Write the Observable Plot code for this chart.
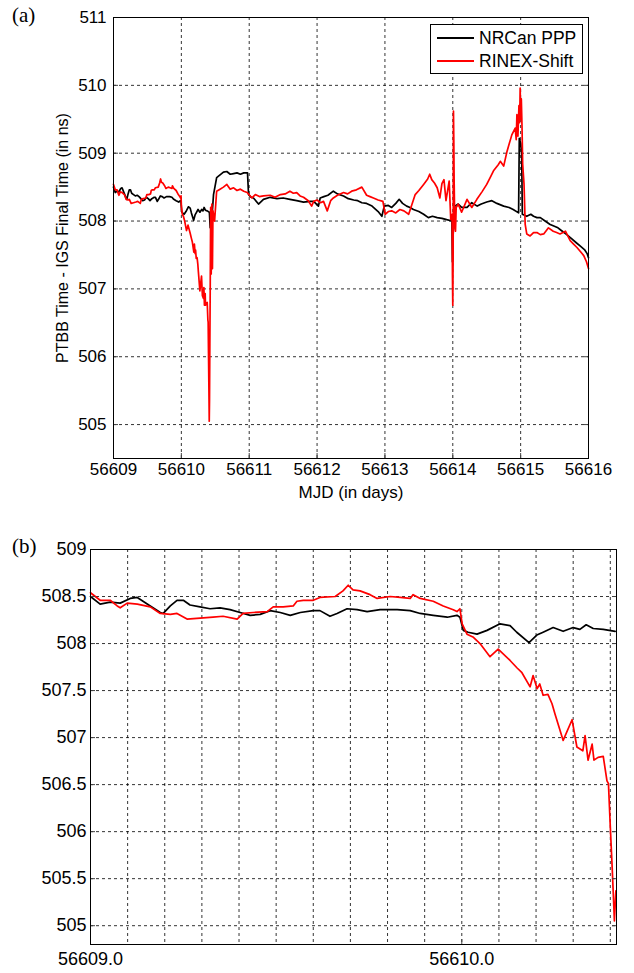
<!DOCTYPE html>
<html>
<head>
<meta charset="utf-8">
<script src="https://cdn.jsdelivr.net/npm/d3@7"></script>
<script src="https://cdn.jsdelivr.net/npm/@observablehq/plot@0.6"></script>
<style>
  body { margin: 0; background: #fff; }
  #wrap { position: relative; width: 634px; height: 973px; font-family: Arial, "Liberation Sans", sans-serif; color: #000; }
  .panel { position: absolute; left: 0; }
  .tag { position: absolute; left: 12px; font-family: "Times New Roman", "Liberation Serif", serif; font-size: 21px; line-height: 1; }
  .legend { position: absolute; left: 430px; top: 24px; width: 151px; height: 48px; border: 1px solid #000; background: #fff; }
  .legend .row { position: absolute; left: 6px; height: 22px; display: flex; align-items: center; }
  .legend .swatch { width: 37px; height: 0; border-top: 2px solid; margin-right: 5px; }
  .legend span { font-size: 17.5px; white-space: nowrap; }
</style>
</head>
<body>
<div id="wrap">
  <div class="tag" style="top:5px">(a)</div>
  <div class="tag" style="top:536px">(b)</div>
</div>
<script>
// Series: [days after MJD 56609, PTBB - IGS final time in ns]
const MJD0 = 56609;

const pppTrace = [
  [0, 508.50], [0.026, 508.42], [0.053, 508.44], [0.080, 508.43], [0.107, 508.48], [0.126, 508.49],
  [0.161, 508.40], [0.188, 508.33], [0.196, 508.32], [0.215, 508.40], [0.233, 508.46], [0.250, 508.46],
  [0.268, 508.41], [0.295, 508.39], [0.322, 508.37], [0.349, 508.38], [0.376, 508.36], [0.403, 508.33],
  [0.430, 508.30], [0.457, 508.31], [0.484, 508.35], [0.511, 508.33], [0.538, 508.30], [0.565, 508.33],
  [0.600, 508.35], [0.618, 508.35], [0.645, 508.29], [0.664, 508.32], [0.691, 508.37], [0.718, 508.36],
  [0.745, 508.34], [0.780, 508.36], [0.826, 508.36], [0.861, 508.35], [0.888, 508.32], [0.923, 508.30],
  [0.961, 508.28], [0.987, 508.30], [0.995, 508.28], [1.004, 508.14], [1.017, 508.12], [1.041, 508.10],
  [1.068, 508.14], [1.103, 508.21], [1.130, 508.19], [1.148, 508.12], [1.181, 508.01], [1.202, 508.09],
  [1.219, 508.12], [1.246, 508.17], [1.273, 508.13], [1.300, 508.17], [1.318, 508.15], [1.335, 508.20],
  [1.354, 508.16], [1.381, 508.15], [1.413, 508.13],
  [1.425, 507.90], [1.45, 508.05], [1.474, 508.39], [1.52, 508.64], [1.57, 508.68], [1.62, 508.72],
  [1.67, 508.73], [1.72, 508.69], [1.77, 508.70], [1.82, 508.71], [1.87, 508.69], [1.92, 508.71],
  [1.975, 508.71], [1.99, 508.39], [2.03, 508.35], [2.063, 508.34], [2.137, 508.25], [2.21, 508.32],
  [2.31, 508.35], [2.41, 508.33], [2.50, 508.34], [2.60, 508.32], [2.70, 508.30], [2.80, 508.28],
  [2.90, 508.29], [2.95, 508.29], [3.02, 508.22], [3.046, 508.34], [3.10, 508.36], [3.16, 508.38],
  [3.24, 508.44], [3.30, 508.40], [3.39, 508.37], [3.46, 508.33], [3.54, 508.31], [3.60, 508.30],
  [3.66, 508.27], [3.73, 508.26], [3.81, 508.22], [3.90, 508.14], [3.955, 508.07], [3.99, 508.22],
  [4.05, 508.23], [4.10, 508.20], [4.16, 508.26], [4.21, 508.32], [4.26, 508.26], [4.32, 508.22],
  [4.37, 508.20], [4.42, 508.17], [4.50, 508.14], [4.57, 508.10], [4.64, 508.05], [4.70, 508.07],
  [4.77, 508.05], [4.84, 508.04], [4.91, 508.02], [4.987, 508.00], [4.995, 507.40], [5.005, 507.80],
  [5.03, 508.22], [5.08, 508.25], [5.13, 508.20], [5.21, 508.20], [5.28, 508.27], [5.36, 508.22],
  [5.42, 508.25], [5.50, 508.28], [5.576, 508.30], [5.65, 508.26], [5.75, 508.22], [5.83, 508.20],
  [5.89, 508.17], [5.97, 508.12], [5.98, 509.22], [6.0, 509.15], [6.015, 508.98], [6.025, 508.10],
  [6.09, 508.07], [6.15, 508.10], [6.19, 508.07], [6.24, 508.05], [6.29, 508.05], [6.36, 508.00],
  [6.435, 507.95], [6.48, 507.93], [6.55, 507.90], [6.60, 507.86], [6.68, 507.80], [6.75, 507.74],
  [6.82, 507.68], [6.88, 507.63], [6.94, 507.58], [6.98, 507.52], [7.0, 507.46]
];

const rinexTrace = [
  [0, 508.54], [0.026, 508.46], [0.053, 508.46], [0.072, 508.40], [0.080, 508.38], [0.099, 508.43],
  [0.126, 508.42], [0.161, 508.39], [0.188, 508.32], [0.215, 508.31], [0.233, 508.32], [0.260, 508.26],
  [0.295, 508.27], [0.330, 508.28], [0.357, 508.29], [0.395, 508.26], [0.411, 508.32], [0.438, 508.33],
  [0.476, 508.34], [0.492, 508.39], [0.519, 508.39], [0.546, 508.40], [0.556, 508.45], [0.573, 508.46],
  [0.600, 508.46], [0.618, 508.49], [0.659, 508.50], [0.680, 508.56], [0.694, 508.62], [0.707, 508.57],
  [0.726, 508.56], [0.753, 508.52], [0.772, 508.48], [0.807, 508.50], [0.834, 508.49], [0.861, 508.48],
  [0.869, 508.52], [0.888, 508.48], [0.923, 508.45], [0.950, 508.40], [0.977, 508.36], [0.987, 508.34],
  [0.995, 508.37], [1.001, 508.21], [1.014, 508.10], [1.030, 508.07], [1.049, 508.00], [1.076, 507.86],
  [1.098, 507.94], [1.130, 507.82], [1.149, 507.74], [1.162, 507.69], [1.184, 507.54], [1.192, 507.66],
  [1.203, 507.52], [1.210, 507.57], [1.219, 507.45], [1.232, 507.46], [1.243, 507.36], [1.251, 507.25],
  [1.273, 506.97], [1.297, 507.19], [1.310, 506.90], [1.326, 506.86], [1.332, 507.02], [1.340, 506.76],
  [1.351, 506.93], [1.356, 506.76], [1.367, 506.79], [1.381, 506.80], [1.391, 506.54], [1.395, 506.51],
  [1.400, 506.05], [1.405, 505.62], [1.408, 505.34], [1.411, 505.05], [1.415, 505.37],
  [1.42, 506.20], [1.425, 506.95], [1.432, 508.20], [1.44, 507.22], [1.45, 508.25], [1.458, 507.30],
  [1.466, 508.15], [1.49, 508.00], [1.52, 508.44], [1.57, 508.47], [1.62, 508.50], [1.67, 508.54],
  [1.72, 508.47], [1.77, 508.49], [1.82, 508.45], [1.87, 508.47], [1.92, 508.44], [1.97, 508.42],
  [2.04, 508.34], [2.09, 508.39], [2.15, 508.36], [2.21, 508.37], [2.31, 508.38], [2.38, 508.35],
  [2.46, 508.39], [2.53, 508.40], [2.60, 508.44], [2.65, 508.41], [2.70, 508.42], [2.75, 508.37],
  [2.80, 508.35], [2.87, 508.30], [2.92, 508.22], [2.95, 508.29], [3.0, 508.31], [3.05, 508.27],
  [3.095, 508.29], [3.15, 508.15], [3.20, 508.30], [3.24, 508.34], [3.30, 508.38], [3.39, 508.42],
  [3.45, 508.40], [3.51, 508.44], [3.58, 508.46], [3.66, 508.50], [3.73, 508.38], [3.78, 508.36],
  [3.83, 508.34], [3.90, 508.31], [3.97, 508.29], [4.004, 508.10], [4.05, 508.14], [4.10, 508.15],
  [4.16, 508.12], [4.22, 508.17], [4.28, 508.15], [4.35, 508.10], [4.40, 508.25], [4.446, 508.39],
  [4.50, 508.45], [4.57, 508.54], [4.63, 508.62], [4.66, 508.69], [4.69, 508.61], [4.73, 508.56],
  [4.77, 508.49], [4.81, 508.34], [4.84, 508.55], [4.87, 508.61], [4.90, 508.30], [4.947, 508.59],
  [4.97, 508.02], [4.99, 508.10], [4.995, 507.20], [5.0, 506.76], [5.005, 507.50], [5.01, 509.62],
  [5.015, 509.20], [5.02, 508.59], [5.03, 507.90], [5.04, 507.85], [5.05, 508.20], [5.08, 508.25],
  [5.13, 508.13], [5.21, 508.32], [5.28, 508.20], [5.355, 508.32], [5.43, 508.43], [5.50, 508.54],
  [5.56, 508.66], [5.60, 508.74], [5.67, 508.83], [5.70, 508.88], [5.75, 508.81], [5.80, 509.03],
  [5.87, 509.27], [5.92, 509.37], [5.935, 509.20], [5.945, 509.57], [5.96, 509.25], [5.975, 509.70],
  [5.985, 509.45], [5.993, 509.96], [6.0, 509.50], [6.01, 509.80], [6.02, 509.40], [6.03, 508.84],
  [6.05, 508.54], [6.067, 507.95], [6.09, 507.81], [6.14, 507.78], [6.19, 507.83], [6.24, 507.83],
  [6.29, 507.80], [6.34, 507.81], [6.41, 507.90], [6.48, 507.85], [6.53, 507.83], [6.58, 507.81],
  [6.66, 507.85], [6.73, 507.71], [6.78, 507.66], [6.83, 507.61], [6.88, 507.55], [6.93, 507.49],
  [6.97, 507.40], [7.0, 507.30]
];

const seriesNames = ["NRCan PPP", "RINEX-Shift"];
const seriesColors = ["#000000", "#ff0000"];

// Panel (a): whole week
const aXTicks = [56609, 56610, 56611, 56612, 56613, 56614, 56615, 56616];
const aYTicks = [505, 506, 507, 508, 509, 510, 511];
const aXLabel = "MJD (in days)";
const aYLabel = "PTBB Time - IGS Final Time (in ns)";

// Panel (b): zoom on the first 10 hours of 56610
const bXEnd = 56610 + 10 / 24;
const bXGrid = [56609.1, 56609.2, 56609.3, 56609.4, 56609.5, 56609.6, 56609.7, 56609.8, 56609.9,
                56610.0, 56610.1, 56610.2, 56610.3, 56610.4];
const bXLabels = [56609, 56610];
const bYTicks = [505, 505.5, 506, 506.5, 507, 507.5, 508, 508.5, 509];

const toRows = trace => trace.map(([d, ns]) => ({mjd: MJD0 + d, ns}));
const pppRows = toRows(pppTrace);
const rinexRows = toRows(rinexTrace);

const font = 'Arial, "Liberation Sans", sans-serif';
const gridStyle = {stroke: "#000", strokeOpacity: 0.8, strokeWidth: 1, strokeDasharray: "3,3"};

const chartA = Plot.plot({
  width: 634, height: 530,
  marginLeft: 113, marginRight: 46, marginTop: 17, marginBottom: 72,
  style: {fontFamily: font, fontSize: "17px", color: "#000", background: "#fff", overflow: "visible"},
  x: {domain: [56609, 56616]},
  y: {domain: [504.5, 511]},
  marks: [
    Plot.gridX(aXTicks, gridStyle),
    Plot.gridY(aYTicks, gridStyle),
    Plot.line(pppRows, {x: "mjd", y: "ns", stroke: seriesColors[0], strokeWidth: 1.7}),
    Plot.line(rinexRows, {x: "mjd", y: "ns", stroke: seriesColors[1], strokeWidth: 1.7}),
    Plot.axisX(aXTicks, {tickSize: -5, tickPadding: 9, tickFormat: d3.format("d"), label: null, stroke: "#444"}),
    Plot.axisY(aYTicks, {tickSize: -5, tickPadding: 12, tickFormat: d3.format("d"), label: null, stroke: "#444"}),
    Plot.axisY(aYTicks, {anchor: "right", tickSize: -5, fill: "none", label: null, stroke: "#444"}),
    Plot.frame({stroke: "#000"}),
    Plot.text([aYLabel], {frameAnchor: "left", textAnchor: "middle", lineAnchor: "middle", rotate: -90, dx: -51, text: d => d, fontSize: 16, fill: "#000"}),
    Plot.text([aXLabel], {frameAnchor: "bottom", textAnchor: "middle", lineAnchor: "middle", dy: 34, text: d => d, fontSize: 17, fill: "#000"})
  ]
});

const inB = r => r.mjd <= bXEnd + 1e-9;
const chartB = Plot.plot({
  width: 634, height: 443,
  marginLeft: 90, marginRight: 18, marginTop: 19, marginBottom: 29,
  style: {fontFamily: font, fontSize: "18px", color: "#000", background: "#fff", overflow: "visible"},
  x: {domain: [56609, bXEnd]},
  y: {domain: [504.8, 509]},
  marks: [
    Plot.gridX(bXGrid, gridStyle),
    Plot.gridY(bYTicks, gridStyle),
    Plot.line(pppRows.filter(inB), {x: "mjd", y: "ns", stroke: seriesColors[0], strokeWidth: 1.7}),
    Plot.line(rinexRows.filter(inB), {x: "mjd", y: "ns", stroke: seriesColors[1], strokeWidth: 1.7}),
    Plot.axisX(bXLabels, {tickSize: -5, tickPadding: 13, tickFormat: d => d.toFixed(1), label: null, stroke: "#444"}),
    Plot.axisY(bYTicks, {tickSize: -5, tickPadding: 9, tickFormat: d => String(d), label: null, stroke: "#444"}),
    Plot.axisY(bYTicks, {anchor: "right", tickSize: -5, fill: "none", label: null, stroke: "#444"}),
    Plot.frame({stroke: "#000"})
  ]
});

const wrap = document.getElementById("wrap");
chartA.classList.add("panel");
chartA.style.top = "0px";
chartB.classList.add("panel");
chartB.style.top = "530px";
wrap.insertBefore(chartB, wrap.firstChild);
wrap.insertBefore(chartA, wrap.firstChild);

// Legend box drawn over the top-right corner of panel (a)
const legend = document.createElement("div");
legend.className = "legend";
seriesNames.forEach((name, i) => {
  const row = document.createElement("div");
  row.className = "row";
  row.style.top = (2 + i * 23) + "px";
  const sw = document.createElement("div");
  sw.className = "swatch";
  sw.style.borderTopColor = seriesColors[i];
  const label = document.createElement("span");
  label.textContent = name;
  row.append(sw, label);
  legend.append(row);
});
wrap.append(legend);
</script>
</body>
</html>
